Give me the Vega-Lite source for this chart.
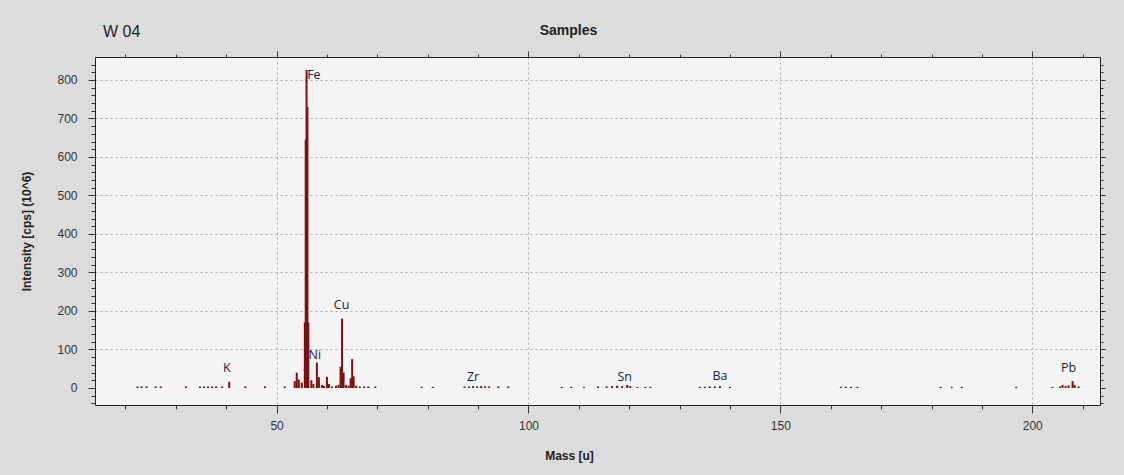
{
  "$schema": "https://vega.github.io/schema/vega-lite/v6.json",
  "width": 1005,
  "height": 348,
  "autosize": {"type": "none"},
  "padding": {"left": 95, "top": 57, "right": 24, "bottom": 70},
  "background": "#dcdcdc",
  "view": {"fill": "#f4f4f4", "stroke": null},
  "title": {"text": "W 04", "anchor": "start", "frame": "group", "dx": 8, "offset": -17, "fontSize": 16, "font": "Liberation Sans", "fontWeight": "normal", "color": "#222222"},
  "config": {
    "axis": {
      "labelFont": "Liberation Sans", "labelFontSize": 12, "labelColor": "#333333",
      "titleFont": "Liberation Sans", "titleFontSize": 12, "titleFontWeight": "bold", "titleColor": "#222222",
      "domainColor": "#222222", "tickColor": "#333333", "gridColor": "#a8a8a8", "gridDash": [2, 3]
    }
  },
  "datasets": {
    "peaks": [
      {"m": 22.4, "v": 4}, {"m": 23.2, "v": 4}, {"m": 24.2, "v": 4}, {"m": 26, "v": 4}, {"m": 27, "v": 4},
      {"m": 32, "v": 4}, {"m": 34.8, "v": 4}, {"m": 35.6, "v": 4}, {"m": 36.4, "v": 4}, {"m": 37.2, "v": 4},
      {"m": 38, "v": 4}, {"m": 39.2, "v": 4}, {"m": 40.6, "v": 16}, {"m": 43.8, "v": 4}, {"m": 47.7, "v": 4},
      {"m": 51.6, "v": 4}, {"m": 53.6, "v": 18}, {"m": 54, "v": 40}, {"m": 54.4, "v": 22}, {"m": 55, "v": 14},
      {"m": 55.6, "v": 170}, {"m": 55.78, "v": 645}, {"m": 55.95, "v": 826}, {"m": 56.12, "v": 730}, {"m": 56.3, "v": 170},
      {"m": 56.9, "v": 20}, {"m": 57.3, "v": 10}, {"m": 58, "v": 66}, {"m": 58.4, "v": 28}, {"m": 59, "v": 8},
      {"m": 59.4, "v": 5}, {"m": 60, "v": 29}, {"m": 60.4, "v": 10}, {"m": 61, "v": 4}, {"m": 61.8, "v": 6},
      {"m": 62.3, "v": 8}, {"m": 62.7, "v": 55}, {"m": 63, "v": 180}, {"m": 63.3, "v": 40}, {"m": 63.8, "v": 8},
      {"m": 64.3, "v": 6}, {"m": 64.7, "v": 25}, {"m": 65, "v": 75}, {"m": 65.3, "v": 30}, {"m": 65.8, "v": 6},
      {"m": 66.5, "v": 4}, {"m": 67.4, "v": 4}, {"m": 68.2, "v": 4}, {"m": 69.6, "v": 4}, {"m": 78.8, "v": 3},
      {"m": 81, "v": 3}, {"m": 87.3, "v": 4}, {"m": 88.2, "v": 4}, {"m": 89, "v": 5}, {"m": 89.8, "v": 4},
      {"m": 90.6, "v": 5}, {"m": 91.4, "v": 4}, {"m": 92.2, "v": 4}, {"m": 94, "v": 4}, {"m": 96, "v": 4},
      {"m": 106.6, "v": 3}, {"m": 108.5, "v": 3}, {"m": 111, "v": 3}, {"m": 113.8, "v": 4}, {"m": 115.5, "v": 4},
      {"m": 116.6, "v": 5}, {"m": 117.6, "v": 6}, {"m": 118.6, "v": 5}, {"m": 119.6, "v": 8}, {"m": 120.2, "v": 5},
      {"m": 121.6, "v": 3}, {"m": 123.2, "v": 3}, {"m": 124.2, "v": 3}, {"m": 134, "v": 3}, {"m": 135, "v": 3},
      {"m": 136, "v": 4}, {"m": 137, "v": 4}, {"m": 138, "v": 5}, {"m": 140, "v": 3}, {"m": 162, "v": 3},
      {"m": 163, "v": 3}, {"m": 164, "v": 3}, {"m": 165.3, "v": 3}, {"m": 181.8, "v": 3}, {"m": 184, "v": 3},
      {"m": 186, "v": 3}, {"m": 196.8, "v": 3}, {"m": 204, "v": 3}, {"m": 205.5, "v": 4}, {"m": 206, "v": 8},
      {"m": 206.6, "v": 5}, {"m": 207.2, "v": 7}, {"m": 208, "v": 18}, {"m": 208.4, "v": 8}, {"m": 209.2, "v": 4}
    ],
    "labels": [
      {"m": 40.1, "v": 52, "label": "K"},
      {"m": 57.4, "v": 813, "label": "Fe"},
      {"m": 57.6, "v": 86, "label": "Ni"},
      {"m": 62.9, "v": 216, "label": "Cu"},
      {"m": 89, "v": 29, "label": "Zr"},
      {"m": 119.1, "v": 29, "label": "Sn"},
      {"m": 138, "v": 31, "label": "Ba"},
      {"m": 207.2, "v": 52, "label": "Pb"}
    ]
  },
  "layer": [
    {
      "mark": {"type": "rule", "color": "#7a7a7a", "strokeWidth": 1.5},
      "encoding": {"y": {"datum": 0, "type": "quantitative", "axis": null}}
    },
    {
      "data": {"name": "peaks"},
      "mark": {"type": "bar", "width": 2, "color": "#7a1010"},
      "encoding": {
        "x": {
          "field": "m", "type": "quantitative",
          "scale": {"domain": [14.95, 212.45], "nice": false, "zero": false},
          "axis": {
            "orient": "bottom", "title": "Mass [u]", "titleX": 474, "titlePadding": 19,
            "values": [20, 30, 40, 50, 60, 70, 80, 90, 100, 110, 120, 130, 140, 150, 160, 170, 180, 190, 200, 210],
            "labelExpr": "datum.value % 50 === 0 ? datum.label : ''",
            "tickSize": {"condition": {"test": "datum.value % 50 === 0", "value": 8}, "value": 4},
            "gridOpacity": {"condition": {"test": "datum.value % 50 === 0", "value": 1}, "value": 0},
            "grid": true, "labelPadding": 7
          }
        },
        "y": {
          "field": "v", "type": "quantitative",
          "scale": {"domain": [-44.2, 859.7], "nice": false, "zero": false},
          "axis": {
            "orient": "left", "title": "Intensity [cps] (10^6)", "titlePadding": 23,
            "values": [-40, -20, 0, 20, 40, 60, 80, 100, 120, 140, 160, 180, 200, 220, 240, 260, 280, 300, 320, 340, 360, 380, 400, 420, 440, 460, 480, 500, 520, 540, 560, 580, 600, 620, 640, 660, 680, 700, 720, 740, 760, 780, 800, 820, 840],
            "labelExpr": "datum.value % 100 === 0 && datum.value >= 0 ? datum.label : ''",
            "tickSize": {"condition": {"test": "datum.value % 100 === 0", "value": 7}, "value": 4},
            "gridOpacity": {"condition": {"test": "datum.value % 100 === 0 && datum.value > 0", "value": 1}, "value": 0},
            "grid": true, "labelPadding": 11
          }
        },
        "y2": {"datum": 0}
      }
    },
    {
      "data": {"name": "labels"},
      "mark": {"type": "text", "font": "Open Sans", "fontSize": 12.5, "color": "#1c1c40", "baseline": "middle", "align": "center"},
      "encoding": {
        "x": {
          "field": "m", "type": "quantitative",
          "axis": {
            "orient": "top", "title": "Samples", "titleFontSize": 14, "titleX": 473, "titleY": -23, "titleBaseline": "alphabetic",
            "values": [20, 30, 40, 50, 60, 70, 80, 90, 100, 110, 120, 130, 140, 150, 160, 170, 180, 190, 200, 210],
            "labels": false, "grid": false,
            "tickSize": {"condition": {"test": "datum.value % 50 === 0", "value": 6}, "value": 3}
          }
        },
        "y": {
          "field": "v", "type": "quantitative",
          "axis": {
            "orient": "right", "title": null, "labels": false, "grid": false,
            "values": [-40, -20, 0, 20, 40, 60, 80, 100, 120, 140, 160, 180, 200, 220, 240, 260, 280, 300, 320, 340, 360, 380, 400, 420, 440, 460, 480, 500, 520, 540, 560, 580, 600, 620, 640, 660, 680, 700, 720, 740, 760, 780, 800, 820, 840],
            "tickSize": {"condition": {"test": "datum.value % 100 === 0", "value": 5}, "value": 3}
          }
        },
        "text": {"field": "label"}
      }
    }
  ],
  "resolve": {"axis": {"x": "independent", "y": "independent"}}
}
